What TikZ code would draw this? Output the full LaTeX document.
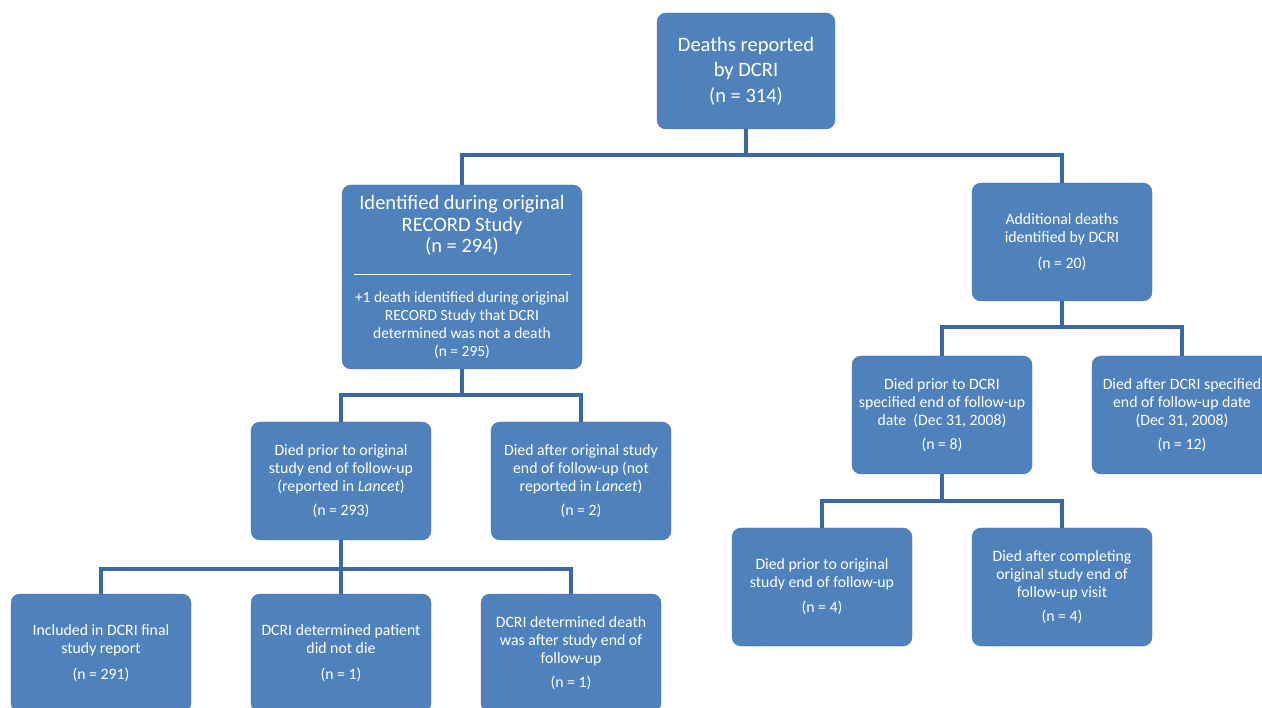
\documentclass[tikz,border=0pt]{standalone}
\usepackage{fontspec}
\setmainfont{Carlito}
\definecolor{boxblue}{HTML}{4F81BD}
\definecolor{boxedge}{HTML}{4678B4}
\definecolor{linkblue}{HTML}{3B67A4}
\newcommand\hdfont{\fontsize{20.5}{21.5}\selectfont}
\newcommand\subfont{\fontsize{15.5}{18}\selectfont}

\begin{document}
\begin{tikzpicture}[x=1pt,y=-1pt,
        box/.style={draw=boxedge, fill=boxblue, rounded corners=9pt, text=white,
            align=center, minimum width=180pt, minimum height=118pt, inner sep=2pt,
            font=\fontsize{15.8}{18}\selectfont},
        link/.style={draw=linkblue, line width=4.5pt}]
        \useasboundingbox (0,0) rectangle (1262,708);
        \node[box, minimum width=178pt, minimum height=116pt,
            font=\fontsize{20.5}{25.5}\selectfont](top) at (746,71)
            {Deaths reported\\by DCRI\\(n = 314)};
        \node[box, minimum width=240pt, minimum height=184pt, font=\hdfont](ident) at (462,277)
            {Identified during original\\RECORD Study\\(n = 294)\\[0pt]
             \rule{217pt}{0.4pt}\\[7pt]
             \subfont +1 death identified during original\\[-3.5pt]
             \subfont RECORD Study that DCRI\\[-3.5pt]
             \subfont determined was not a death\\[-3.5pt]
             \subfont (n = 295)};
        \node[box](addl)      at (1062,242) {Additional deaths\\identified by DCRI\\[8pt](n = 20)};
        \node[box](prior)     at (341,481)  {Died prior to original\\study end of follow-up\\(reported in \textit{Lancet})\\[6pt](n = 293)};
        \node[box](after)     at (581,481)  {Died after original study\\end of follow-up (not\\reported in \textit{Lancet})\\[6pt](n = 2)};
        \node[box](dprior)    at (942,415)  {Died prior to DCRI\\specified end of follow-up\\date \ (Dec 31, 2008)\\[6pt](n = 8)};
        \node[box](dafter)    at (1182,415) {Died after DCRI specified\\end of follow-up date\\(Dec 31, 2008)\\[6pt](n = 12)};
        \node[box](origprior) at (822,587)  {Died prior to original\\study end of follow-up\\[7pt](n = 4)};
        \node[box](compl)     at (1062,587) {Died after completing\\original study end of\\follow-up visit\\[6pt](n = 4)};
        \node[box](incl)      at (101,653)  {Included in DCRI final\\study report\\[8pt](n = 291)};
        \node[box](notdie)    at (341,653)  {DCRI determined patient\\did not die\\[8pt](n = 1)};
        \node[box](later)     at (571,653)  {DCRI determined death\\was after study end of\\follow-up\\[6pt](n = 1)};
        % branch points
        \coordinate (j1) at (746,155);
        \coordinate (j2) at (462,395);
        \coordinate (j3) at (341,569);
        \coordinate (j4) at (1062,327);
        \coordinate (j5) at (942,501);
        \draw[link] (top) -- (j1);
        \draw[link] (ident) |- (j1) -| (addl);
        \draw[link] (ident) -- (j2);
        \draw[link] (prior) |- (j2) -| (after);
        \draw[link] (prior) -- (j3);
        \draw[link] (incl) |- (j3) -| (later);
        \draw[link] (j3) -- (notdie);
        \draw[link] (addl) -- (j4);
        \draw[link] (dprior) |- (j4) -| (dafter);
        \draw[link] (dprior) -- (j5);
        \draw[link] (origprior) |- (j5) -| (compl);
    \end{tikzpicture}
\end{document}
